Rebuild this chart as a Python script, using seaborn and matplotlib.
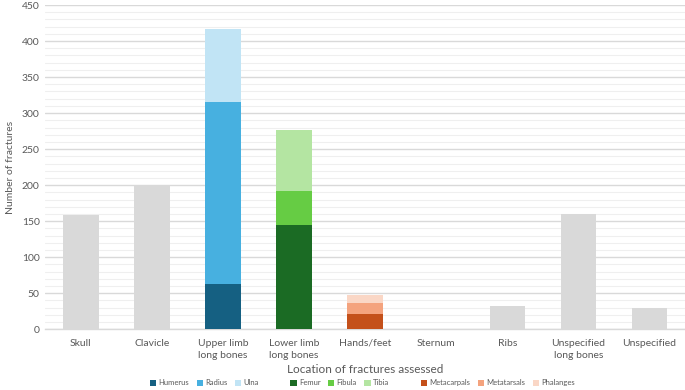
import matplotlib
matplotlib.use("Agg")
import matplotlib.pyplot as plt
import seaborn as sns
import pandas as pd
import numpy as np
from matplotlib.patches import Patch
from matplotlib.ticker import MultipleLocator

categories = ["Skull", "Clavicle", "Upper limb\nlong bones", "Lower limb\nlong bones",
              "Hands/feet", "Sternum", "Ribs", "Unspecified\nlong bones", "Unspecified"]
# single (grey) bars
grey_cats = ["Skull", "Clavicle", "Sternum", "Ribs", "Unspecified\nlong bones", "Unspecified"]
grey_vals = [158, 200, 0, 32, 160, 29]

# stacked groups (bottom -> top)
upper_cat = "Upper limb\nlong bones"
upper_names = ["Humerus", "Radius", "Ulna"]
upper_vals = [63, 252, 102]
upper_cols = ["#156082", "#47B0E0", "#C1E4F5"]

lower_cat = "Lower limb\nlong bones"
lower_names = ["Femur", "Fibula", "Tibia"]
lower_vals = [145, 47, 84]
lower_cols = ["#1B6B24", "#66CC44", "#B4E5A2"]

hand_cat = "Hands/feet"
hand_names = ["Metacarpals", "Metatarsals", "Phalanges"]
hand_vals = [21, 15, 12]
hand_cols = ["#C4501A", "#F4A37E", "#FAD7C6"]

sns.set_theme(style="white")
plt.rcParams["font.family"] = ["Lato", "DejaVu Sans"]
txt = "#595959"

fig = plt.figure(figsize=(6.85, 3.9), dpi=100)
ax = fig.add_axes([0.066, 0.156, 0.934, 0.831])

W = 0.5
# grey bars
sns.barplot(x=grey_cats, y=grey_vals, order=categories, color="#D9D9D9",
            width=W, ax=ax, zorder=3, saturation=1, linewidth=0)

# stacked bars: draw cumulative tops first
for cat, vals, cols in [(upper_cat, upper_vals, upper_cols),
                        (lower_cat, lower_vals, lower_cols),
                        (hand_cat, hand_vals, hand_cols)]:
    cum = np.cumsum(vals)
    for i in range(len(vals) - 1, -1, -1):
        sns.barplot(x=[cat], y=[cum[i]], order=categories, color=cols[i],
                    width=W, ax=ax, zorder=3 + (len(vals) - i), saturation=1,
                    linewidth=0)

ax.set_xlim(-0.5, len(categories) - 0.5)
ax.set_ylim(0, 450)
ax.yaxis.set_major_locator(MultipleLocator(50))
ax.yaxis.set_minor_locator(MultipleLocator(10))
ax.grid(axis="y", which="major", color="#D9D9D9", linewidth=1.0, zorder=0)
ax.grid(axis="y", which="minor", color="#EFEFEF", linewidth=0.8, zorder=0)
ax.set_axisbelow(True)
for s in ["top", "right", "left"]:
    ax.spines[s].set_visible(False)
ax.spines["bottom"].set_color("#D9D9D9")
ax.spines["bottom"].set_linewidth(1.0)
ax.tick_params(axis="both", which="both", length=0, colors=txt, labelsize=7.5)
ax.tick_params(axis="y", pad=4)
ax.tick_params(axis="x", pad=7)
ax.set_xticks(range(len(categories)))
ax.set_xticklabels(categories, color=txt, fontsize=7.5, linespacing=1.4)
ax.set_ylabel("Number of fractures", color=txt, fontsize=7.5)
ax.yaxis.set_label_coords(-0.047, 0.5)
ax.set_xlabel("Location of fractures assessed", color=txt, fontsize=8.5, labelpad=3)

handles = []
labels = []
blank = Patch(facecolor="none", edgecolor="none")
groups = [(upper_names, upper_cols), (lower_names, lower_cols), (hand_names, hand_cols)]
for gi, (names, cols) in enumerate(groups):
    for n, c in zip(names, cols):
        handles.append(Patch(facecolor=c, edgecolor="none"))
        labels.append(n)
    if gi < len(groups) - 1:
        handles.append(blank)
        labels.append("    ")
leg = fig.legend(handles, labels, loc="center", bbox_to_anchor=(0.529, 0.018),
                 ncol=len(handles), frameon=False, fontsize=5.5,
                 handlelength=0.8, handleheight=0.8, handletextpad=0.3,
                 columnspacing=1.0, borderpad=0, borderaxespad=0)
for t in leg.get_texts():
    t.set_color(txt)

fig.savefig("out.png", dpi=100)
